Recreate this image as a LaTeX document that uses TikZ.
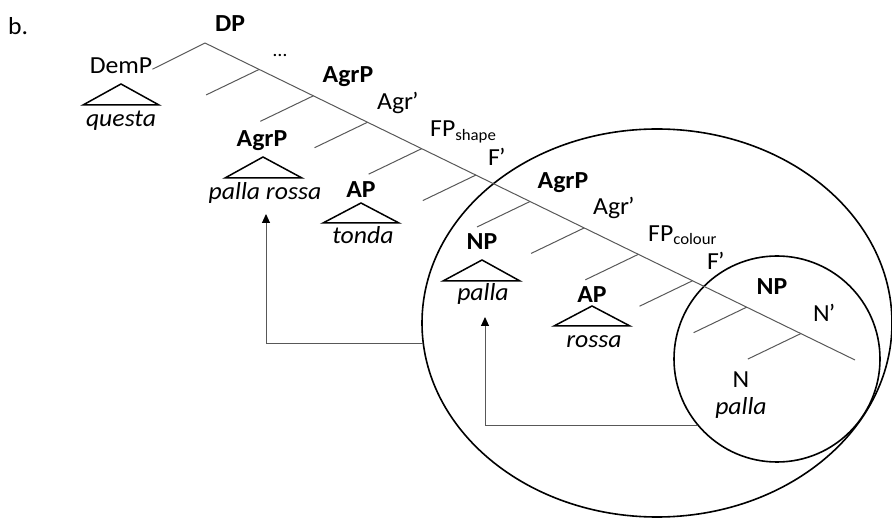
\documentclass[tikz,border=0pt]{standalone}
\usepackage{fontspec}
\setmainfont{Carlito}[FakeStretch=1.05]
\usetikzlibrary{shapes.geometric,arrows.meta,calc}
\definecolor{treegray}{RGB}{88,88,88}
\newcommand{\pr}{\kern-1pt’}
\begin{document}
\begin{tikzpicture}[x=1pt,y=-1pt,
  plainlbl/.style={inner sep=0pt, anchor=base, font=\fontsize{24.5}{29}\selectfont},
  catlbl/.style={plainlbl, font=\fontsize{24.5}{29}\selectfont\bfseries},
  wordlbl/.style={plainlbl, font=\fontsize{24.5}{29}\selectfont\itshape},
  barlbl/.style={plainlbl, anchor=base west},
  branch/.style={draw=treegray, line width=1pt},
  roof/.style={draw=black, line width=1.5pt, line join=miter},
  spellout/.style={draw=black, line width=1.6pt, ellipse, inner sep=0pt},
  movearrow/.style={draw=treegray, line width=1pt, -{Triangle[length=9pt,width=8pt,color=black]}}
]
\useasboundingbox (0,0) rectangle (892,518);

% movement domains
\node[spellout, minimum width=470pt, minimum height=388pt] (outer) at (657,323) {};
\node[spellout, circle, minimum size=206pt] (inner) at (777,359) {};

% right-branching spine with its left daughters
\coordinate (s0) at (205,43);
\coordinate (s12) at (855,360);
\draw[branch] (s0) -- (s12);
\foreach \i in {1,...,11}{
  \coordinate (s\i) at ($(s0)!\i/12!(s12)$);
  \draw[branch] (s\i) -- ++(-53,25.5);
}

% labels
\node[barlbl] (blabel) at (8,35) {b.};
\node[catlbl] (dp) at (230,31.5) {DP};
\node[plainlbl] (demp) at (121,74) {DemP};
\node[wordlbl] (questa) at (121,126.5) {questa};
\node[plainlbl] (dots) at (280,57) {\fontsize{19}{24}\selectfont …};
\node[catlbl] (agrpA) at (348,83) {AgrP};
\node[barlbl] (agrbarA) at (377,109.5) {Agr\pr};
\node[barlbl] (fpshape) at (430,137) {FP\raisebox{-3.5pt}{\fontsize{16}{18}\selectfont shape}};
\node[barlbl] (fbarA) at (488,166) {F\pr};
\node[catlbl] (agrpB) at (563,189) {AgrP};
\node[barlbl] (agrbarB) at (593,215) {Agr\pr};
\node[barlbl] (fpcolour) at (648,241.5) {FP\raisebox{-3.5pt}{\fontsize{16}{18}\selectfont colour}};
\node[barlbl] (fbarB) at (707,270) {F\pr};
\node[catlbl] (npC) at (772,295) {NP};
\node[barlbl] (nbar) at (813,321.5) {N\pr};
\node[plainlbl] (nhead) at (741,388) {N};
\node[wordlbl] (pallaC) at (741,415) {palla};

\node[catlbl] (agrpS) at (262,147) {AgrP};
\node[wordlbl] (pallarossa) at (265,200) {palla rossa};
\node[catlbl] (apT) at (361,198) {AP};
\node[wordlbl] (tonda) at (363,244) {tonda};
\node[catlbl] (npB) at (482,250) {NP};
\node[wordlbl] (pallaB) at (483,301) {palla};
\node[catlbl] (apR) at (592,303) {AP};
\node[wordlbl] (rossa) at (594,348) {rossa};

% DemP attaches to DP
\draw[branch] ([yshift=-3pt]demp.east) -- (s0);

% triangles
\draw[roof] (121,84) -- (83,105) -- (159,105) -- cycle;
\draw[roof] (263,157) -- (225,178) -- (302,178) -- cycle;
\draw[roof] (361,203) -- (323,223) -- (399,223) -- cycle;
\draw[roof] (482,260) -- (443,281) -- (520,281) -- cycle;
\draw[roof] (592,306) -- (554,326) -- (630,326) -- cycle;

% movement arrows
\coordinate (tipA) at (266,214);
\coordinate (tipB) at (485,317);
\draw[movearrow] (outer.185) -| (tipA);
\draw[movearrow] (inner.220) -| (tipB);
\end{tikzpicture}
\end{document}
